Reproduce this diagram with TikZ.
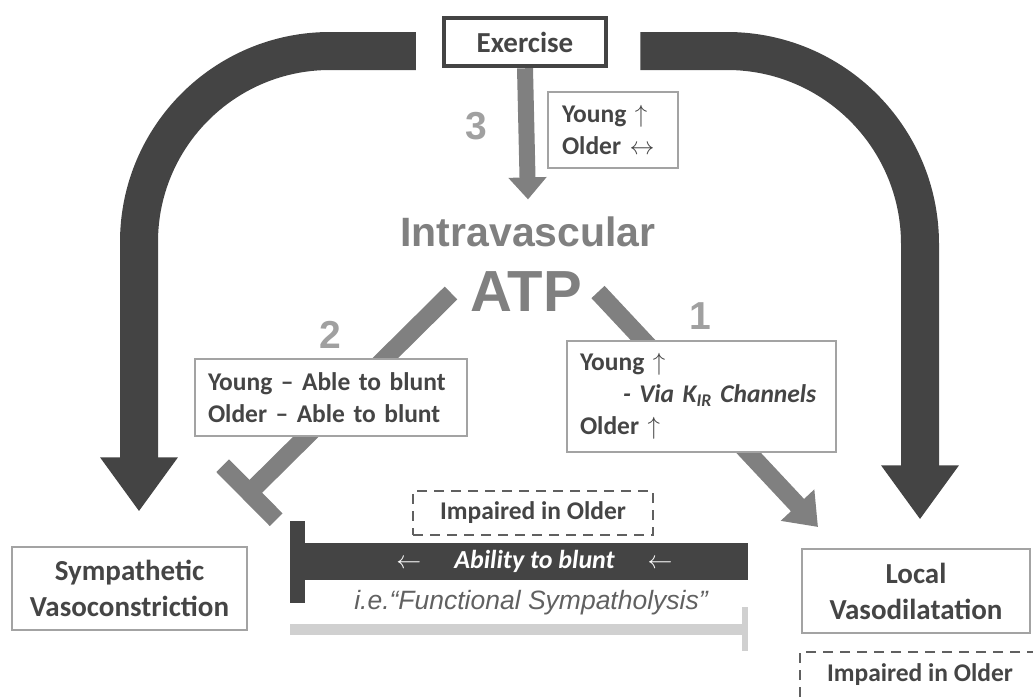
\documentclass[tikz,border=0pt]{standalone}
\usepackage{fontspec}
\setmainfont{Carlito}
\newfontfamily\arialfont{Liberation Sans}
\usetikzlibrary{arrows.meta,positioning}
\definecolor{darkgr}{HTML}{444444}
\definecolor{midgr}{HTML}{808080}
\definecolor{numgr}{HTML}{A0A0A0}
\definecolor{boxgr}{HTML}{A3A3A3}
\definecolor{txtgr}{HTML}{454545}
\definecolor{litegr}{HTML}{D0D0D0}
\tikzset{
  infobox/.style={draw=boxgr, line width=1.2pt, text=txtgr, align=left, inner sep=0pt,
    font=\bfseries\fontsize{25.5}{32}\selectfont},
  dashbox/.style={infobox, draw=darkgr!85, line width=1.4pt, dash pattern=on 10pt off 7pt},
  endbox/.style={infobox, align=center, font=\bfseries\fontsize{29}{36}\selectfont},
  numlbl/.style={text=numgr, font=\arialfont\bfseries\fontsize{39}{39}\selectfont},
  bigarrow/.style={darkgr, line width=38pt, -{Triangle[width=74pt,length=54pt]}},
  midarrow/.style={midgr, line width=16pt, -{Triangle[width=37pt,length=22pt]}},
}
\begin{document}
\begin{tikzpicture}[x=1pt,y=-1pt]
\useasboundingbox (0,0) rectangle (1033,696);
% boxes
\node[draw=darkgr, line width=4.5pt, minimum width=162pt, minimum height=48pt, text=txtgr,
  font=\bfseries\fontsize{29}{29}\selectfont] (ex) at (525,42) {Exercise};
\node[infobox, minimum width=130pt, minimum height=76pt, text width=102pt] (ythree) at (613,130)
  {Young $\uparrow$\\Older $\leftrightarrow$};
\node[text=midgr, font=\arialfont\bfseries\fontsize{41}{41}\selectfont] (intra) at (528,232) {Intravascular};
\node[text=midgr, font=\arialfont\bfseries\fontsize{58}{58}\selectfont] (atp) at (526,292) {ATP};
\node[numlbl] (nthree) at (476,126) {3};
\node[numlbl] (ntwo) at (330,335) {2};
\node[numlbl] (none) at (700,316) {1};
% pathway arrows
\coordinate (sone) at (598,292);
\coordinate (tone) at (818,527);
\coordinate (stwo) at (451,293);
\coordinate (ttwo) at (243,499);
\draw[midarrow] (ex.south) -- ([yshift=14pt]intra.north);
\draw[midgr, line width=18pt, -{Triangle[width=44pt,length=30pt]}] (sone) -- (tone);
\draw[midgr, line width=18pt, -{Bar[width=76pt]}] (stwo) -- (ttwo);
\node[infobox, fill=white, minimum width=272pt, minimum height=77pt, text width=246pt] (btwo) at (331,397.5)
  {Young -- Able to blunt\\Older -- Able to blunt};
\node[infobox, fill=white, minimum width=269pt, minimum height=111pt, text width=243pt] (bone) at (701.5,396.5)
  {Young $\uparrow$\\\hspace*{43pt}\textit{- Via K\textsubscript{IR} Channels}\\Older $\uparrow$};
% end points
\node[endbox, minimum width=235pt, minimum height=83pt] (sym) at (129.5,588.5)
  {Sympathetic\\Vasoconstriction};
\node[endbox, minimum width=228pt, minimum height=84pt] (loc) at (916,591)
  {Local\\Vasodilatation};
\node[dashbox, minimum width=240pt, minimum height=44pt] (imptop) at (533,513) {Impaired in Older};
\node[dashbox, minimum width=240pt, minimum height=46pt] (impbot) at (920,675) {Impaired in Older};
% exercise to end points
\draw[bigarrow] ([xshift=-26pt,yshift=-9pt]ex.west) -- (330,51)
  arc[start angle=270, end angle=180, radius=191] -- ([xshift=9.5pt,yshift=35pt]sym.north);
\draw[bigarrow] ([xshift=32pt,yshift=-9pt]ex.east) -- (727,51)
  arc[start angle=270, end angle=360, radius=193] -- ([xshift=4pt,yshift=29pt]loc.north);
% sympatholysis bar
\node[fill=darkgr, minimum width=443pt, minimum height=37pt, inner sep=0pt, text=white,
  font=\bfseries\itshape\fontsize{26}{26}\selectfont] (abl) at (526.5,561.5)
  {\hspace*{16pt}$\leftarrow$\hspace{33pt}Ability to blunt\hspace{33pt}$\leftarrow$};
\fill[darkgr] ([xshift=-15pt,yshift=41pt]abl.west) rectangle ([yshift=-41pt]abl.west);
\node[text=txtgr!85, font=\arialfont\itshape\fontsize{26.5}{26.5}\selectfont] (fsl) at (531,603)
  {i.e.“Functional Sympatholysis”};
\coordinate (lbar) at (290,629);
\coordinate (rbar) at (745,629);
\draw[litegr, line width=11pt] (lbar) -- (rbar);
\draw[litegr, line width=6pt] ([yshift=22pt]rbar) -- ([yshift=-22pt]rbar);
\end{tikzpicture}
\end{document}
